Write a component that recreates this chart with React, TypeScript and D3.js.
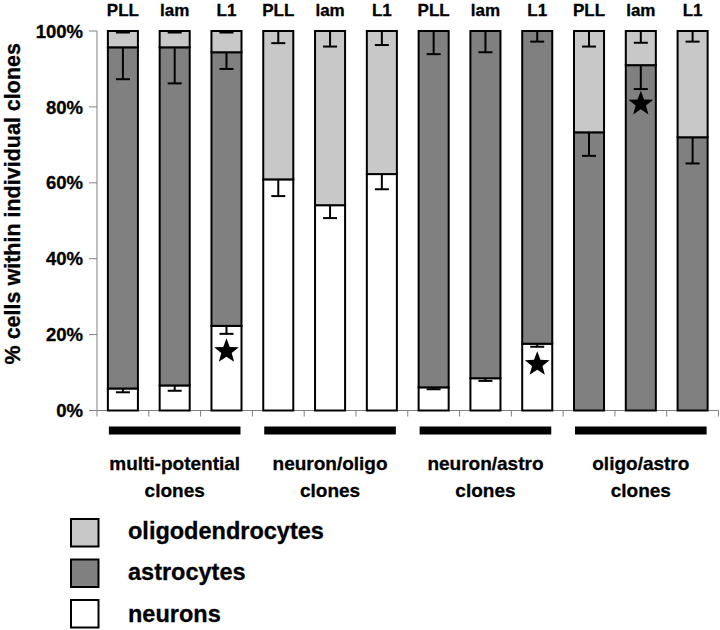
import React from "react";
import * as d3 from "d3";

const barLabels = ["PLL", "lam", "L1", "PLL", "lam", "L1", "PLL", "lam", "L1", "PLL", "lam", "L1"];
const groupLines = [
  ["multi-potential", "clones"],
  ["neuron/oligo", "clones"],
  ["neuron/astro", "clones"],
  ["oligo/astro", "clones"],
];
const neurons = [5.8, 6.6, 22.3, 60.9, 54.1, 62.3, 6.1, 8.5, 17.6, 0, 0, 0];
const astrocytes = [89.9, 89.1, 72.1, 0, 0, 0, 93.9, 91.5, 82.4, 73.3, 91.0, 72.0];
const oligodendrocytes = neurons.map((n, i) => 100 - n - astrocytes[i]);
const neuronErr = [1.0, 1.4, 2.1, 4.4, 3.4, 4.0, 0.5, 0.7, 0.8, 0, 0, 0];
const astroErr = [8.4, 9.5, 4.4, 0, 0, 0, 6.1, 5.6, 2.8, 6.2, 6.3, 6.9];
const oligoErr = [0.4, 0.4, 0.4, 3.2, 4.1, 3.7, 0, 0, 0, 4.1, 3.1, 2.8];
const stars = [
  { idx: 2, value: 15.6 },
  { idx: 8, value: 12.2 },
  { idx: 10, value: 80.8 },
];
const yTicks = [0, 20, 40, 60, 80, 100];
const seriesKeys = ["neurons", "astrocytes", "oligodendrocytes"];
const seriesColors: Record<string, string> = {
  neurons: "#ffffff",
  astrocytes: "#808080",
  oligodendrocytes: "#c8c8c8",
};
const legendOrder = ["oligodendrocytes", "astrocytes", "neurons"];

const FONT = "'Liberation Sans', Arial, Helvetica, sans-serif";

export default function App() {
  const W = 720, H = 630;
  const left = 97, right = 718.5, top = 31, bottom = 410.5;
  const idx = barLabels.map((_, i) => i);
  const x = d3.scaleBand<number>().domain(idx).range([left, right]).paddingInner(0.42).paddingOuter(0.21);
  const y = d3.scaleLinear().domain([0, 100]).range([bottom, top]);
  const rows = idx.map((i) => ({
    i,
    neurons: neurons[i],
    astrocytes: astrocytes[i],
    oligodendrocytes: oligodendrocytes[i],
  }));
  const stacked = d3.stack<any>().keys(seriesKeys)(rows);
  const errs: Record<string, number[]> = { neurons: neuronErr, astrocytes: astroErr, oligodendrocytes: oligoErr };
  const bw = x.bandwidth();
  const step = x.step();
  const starPath = (cx: number, cy: number, R: number) => {
    const r = R * 0.42;
    const pts: string[] = [];
    for (let k = 0; k < 10; k++) {
      const a = -Math.PI / 2 + (k * Math.PI) / 5;
      const rr = k % 2 === 0 ? R : r;
      pts.push(`${cx + rr * Math.cos(a)},${cy + rr * Math.sin(a)}`);
    }
    return "M" + pts.join("L") + "Z";
  };
  const heavy = { stroke: "#000", strokeWidth: 0.3 };

  return (
    <svg width={W} height={H} style={{ position: "absolute", left: 0, top: 0, background: "#fff" }} fontFamily={FONT} fontWeight="bold">
      {/* axes */}
      <line x1={left} x2={left} y1={top} y2={bottom} stroke="#808080" strokeWidth={1} />
      <line x1={left} x2={right} y1={bottom} y2={bottom} stroke="#808080" strokeWidth={1} />
      {yTicks.map((t) => (
        <g key={t}>
          <line x1={left - 8} x2={left} y1={y(t)} y2={y(t)} stroke="#808080" strokeWidth={1} />
          <text x={83} y={y(t)} dy="0.36em" textAnchor="end" fontSize={18.5} {...heavy}>{t}%</text>
        </g>
      ))}
      {d3.range(13).map((k) => (
        <line key={k} x1={left + k * step} x2={left + k * step} y1={bottom} y2={bottom + 6} stroke="#808080" strokeWidth={1} />
      ))}
      <text transform={`translate(20,${(top + bottom) / 2 - 17}) rotate(-90)`} textAnchor="middle" fontSize={21.5} {...heavy}>
        % cells within individual clones
      </text>
      {/* bars */}
      {stacked.map((s) => (
        <g key={s.key}>
          {s.map((d: any, i: number) =>
            d[1] - d[0] > 0 ? (
              <rect key={i} x={x(i)} y={y(d[1])} width={bw} height={y(d[0]) - y(d[1])}
                fill={seriesColors[s.key]} stroke="#000" strokeWidth={2} />
            ) : null
          )}
        </g>
      ))}
      {/* error bars */}
      {stacked.map((s) => (
        <g key={"e" + s.key}>
          {s.map((d: any, i: number) => {
            const e = errs[s.key][i];
            if (d[1] - d[0] <= 0 || e <= 0) return null;
            const cx = (x(i) as number) + bw / 2;
            return (
              <g key={i}>
                <line x1={cx} x2={cx} y1={y(d[1])} y2={y(d[1] - e)} stroke="#000" strokeWidth={2} />
                <line x1={cx - 7} x2={cx + 7} y1={y(d[1] - e)} y2={y(d[1] - e)} stroke="#000" strokeWidth={2} />
              </g>
            );
          })}
        </g>
      ))}
      {/* stars */}
      {stars.map((s, k) => (
        <path key={k} d={starPath((x(s.idx) as number) + bw / 2, y(s.value), 13)} fill="#000" />
      ))}
      {/* top labels */}
      {barLabels.map((l, i) => (
        <text key={i} x={(x(i) as number) + bw / 2} y={16} textAnchor="middle" fontSize={17} {...heavy}>{l}</text>
      ))}
      {/* group bars and labels */}
      {groupLines.map((lines, g) => {
        const x0 = x(g * 3) as number;
        const x1 = (x(g * 3 + 2) as number) + bw;
        const cx = (x0 + x1) / 2;
        return (
          <g key={g}>
            <rect x={x0 + 1} y={426.5} width={x1 - x0 - 2} height={8} fill="#000" />
            <text x={cx} y={470} textAnchor="middle" fontSize={19} {...heavy}>{lines[0]}</text>
            <text x={cx} y={497} textAnchor="middle" fontSize={19} {...heavy}>{lines[1]}</text>
          </g>
        );
      })}
      {/* legend */}
      {legendOrder.map((k, j) => (
        <g key={k}>
          <rect x={71} y={519 + j * 40.5} width={27.5} height={27.5} fill={seriesColors[k]} stroke="#000" strokeWidth={2} />
          <text x={128} y={538.5 + j * 41.5} fontSize={23.5} {...heavy}>{k}</text>
        </g>
      ))}
    </svg>
  );
}
